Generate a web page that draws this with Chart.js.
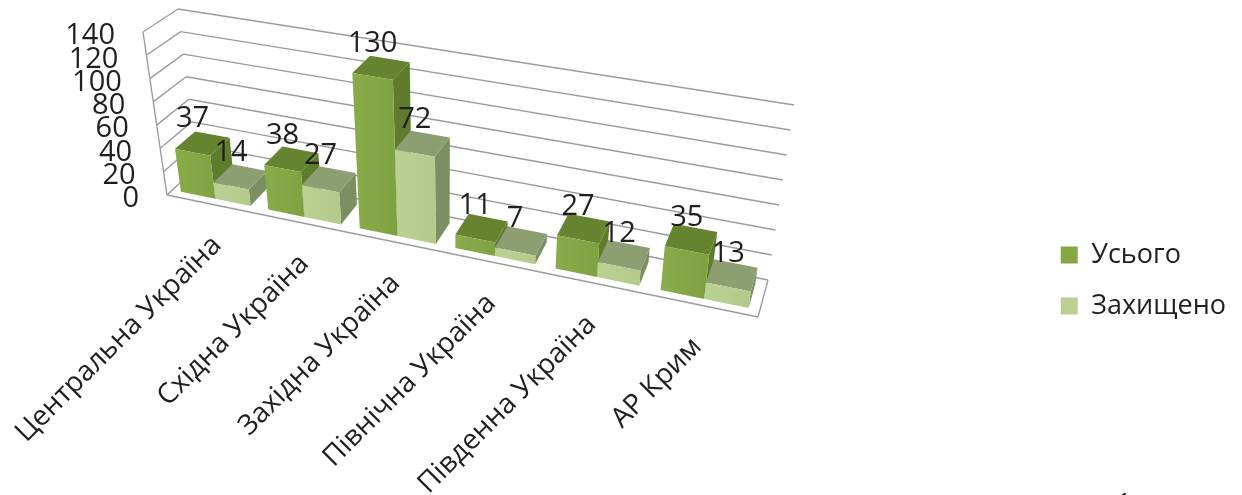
<!DOCTYPE html>
<html><head><meta charset="utf-8">
<style>html,body{margin:0;padding:0;background:#fff}canvas{display:block}</style>
<script src="https://cdn.jsdelivr.net/npm/chart.js@4"></script>
</head><body>
<canvas id="c" width="1242" height="495"></canvas>
<script>
const categories = ["Центральна Україна","Східна Україна","Західна Україна","Північна Україна","Південна Україна","АР Крим"];
const totalValues = [37,38,130,11,27,35];
const protectedValues = [14,27,72,7,12,13];
const seriesNames = ["Усього","Захищено"];
const yTicks = [0,20,40,60,80,100,120,140];

const TEXT = '#1f1f1f', GRID = '#9c9c9c';
const FONT = '"Open Sans","Noto Sans",sans-serif';
// perspective frame of the 3D box: [u][v][w] corners in page pixels
const FRAME = {
  fl0:[167,195], fl1:[143,32], bl0:[197,167], bl1:[178,9],
  fr0:[758,317], fr1:[782,138], br0:[768,280], br1:[794,105]
};
const PERSP = 1.15, D0 = 0.18, D1 = 0.83;
const SKIN = [
  {front:['#8aab4a','#7fa241'], top:'#66832f', side:'#5f7b2c'},
  {front:['#bbd194','#b2ca8a'], top:'#8d9f72', side:'#7c8f63'}
];
const warp = u => u/(u+PERSP*(1-u));
const mix = (a,b,t)=>[a[0]+(b[0]-a[0])*t,a[1]+(b[1]-a[1])*t];
function project(u,v,w){
  const f=warp(u), F=FRAME;
  const left0=mix(F.fl0,F.bl0,w), left1=mix(F.fl1,F.bl1,w);
  const right0=mix(F.fr0,F.br0,w), right1=mix(F.fr1,F.br1,w);
  return mix(mix(left0,right0,f),mix(left1,right1,f),v);
}
function poly(ctx,pts,fill){
  ctx.beginPath();pts.forEach((p,i)=>i?ctx.lineTo(p[0],p[1]):ctx.moveTo(p[0],p[1]));ctx.closePath();
  ctx.fillStyle=fill;ctx.fill();
}
function seg(ctx,a,b){ctx.moveTo(a[0],a[1]);ctx.lineTo(b[0],b[1]);}

const box3d = {
  id:'box3d',
  beforeDatasetsDraw(chart){
    const ctx=chart.ctx, ca=chart.chartArea, xs=chart.scales.x, ys=chart.scales.y;
    const U=px=>(px-ca.left)/ca.width, V=val=>(ys.bottom-ys.getPixelForValue(val))/(ys.bottom-ys.top);
    ctx.save();
    // walls
    ctx.strokeStyle=GRID;ctx.lineWidth=1.4;ctx.beginPath();
    ys.ticks.forEach(t=>{
      const v=V(t.value);
      seg(ctx,project(0,v,0),project(0,v,1));
      seg(ctx,project(0,v,1),project(1,v,1));
    });
    seg(ctx,project(0,0,0),project(0,1,0));
    seg(ctx,project(0,0,0),project(1,0,0));
    seg(ctx,project(1,0,0),project(1,0,1));
    ctx.stroke();
    // y tick labels
    ctx.fillStyle=TEXT;ctx.font='29px '+FONT;ctx.textAlign='right';ctx.textBaseline='middle';
    ys.ticks.forEach(t=>{
      const p=project(0,V(t.value),0);
      ctx.fillText(t.label,p[0]-28,p[1]+4);
    });
    // category labels
    ctx.font='28px '+FONT;
    xs.ticks.forEach((t,i)=>{
      const u=U(xs.getPixelForTick(i));
      const p=project(u,0,0);
      ctx.save();ctx.translate(p[0]+8-14*u,p[1]+37);ctx.rotate(-Math.PI/4);
      ctx.fillText(categories[t.value],0,0);ctx.restore();
    });
    // bars, painted left to right
    const metas=[chart.getDatasetMeta(0),chart.getDatasetMeta(1)];
    const labels=[];
    categories.forEach((_,i)=>{
      metas.forEach((m,d)=>{
        const e=m.data[i], s=SKIN[d];
        const uL=U(e.x-e.width/2), uR=U(e.x+e.width/2);
        const vT=V(chart.data.datasets[d].data[i]);
        const p=(u,v,w)=>project(u,v,w);
        poly(ctx,[p(uR,vT,D0),p(uR,vT,D1),p(uR,0,D1),p(uR,0,D0)],s.side);
        poly(ctx,[p(uL,vT,D0),p(uR,vT,D0),p(uR,vT,D1),p(uL,vT,D1)],s.top);
        const a=p(uL,vT,D0), b=p(uR,0,D0);
        const g=ctx.createLinearGradient(a[0],0,b[0],0);
        g.addColorStop(0,s.front[0]);g.addColorStop(1,s.front[1]);
        poly(ctx,[p(uL,vT,D0),p(uR,vT,D0),p(uR,0,D0),p(uL,0,D0)],g);
        const c=p((uL+uR)/2,vT,D0);
        labels.push([chart.data.datasets[d].data[i],c[0],c[1]-33]);
      });
    });
    // value labels
    ctx.fillStyle=TEXT;ctx.font='29px '+FONT;ctx.textAlign='center';ctx.textBaseline='middle';
    labels.forEach(l=>ctx.fillText(String(l[0]),l[1],l[2]));
    // clipped page number at the lower edge of the picture
    ctx.font='24px '+FONT;ctx.textAlign='center';ctx.textBaseline='alphabetic';
    ctx.fillText('1',1124,510);
    ctx.restore();
    return false;
  }
};

new Chart(document.getElementById('c'),{
  type:'bar',
  data:{labels:categories,datasets:[
    {label:seriesNames[0],data:totalValues,backgroundColor:'#85a845'},
    {label:seriesNames[1],data:protectedValues,backgroundColor:'#b9d092'}
  ]},
  plugins:[box3d],
  options:{
    responsive:false,animation:false,
    layout:{padding:{top:66,right:6,left:0,bottom:0}},
    plugins:{
      tooltip:{enabled:false},
      legend:{position:'right',labels:{boxWidth:17,boxHeight:17,padding:24,color:TEXT,font:{family:FONT,size:27}}}
    },
    scales:{
      x:{display:false,offset:true,grid:{display:false}},
      y:{display:false,min:0,max:140,
         afterBuildTicks(a){a.ticks=yTicks.map(v=>({value:v,label:String(v)}));}}
    },
    datasets:{bar:{categoryPercentage:0.8,barPercentage:1}}
  }
});
</script>
</body></html>
